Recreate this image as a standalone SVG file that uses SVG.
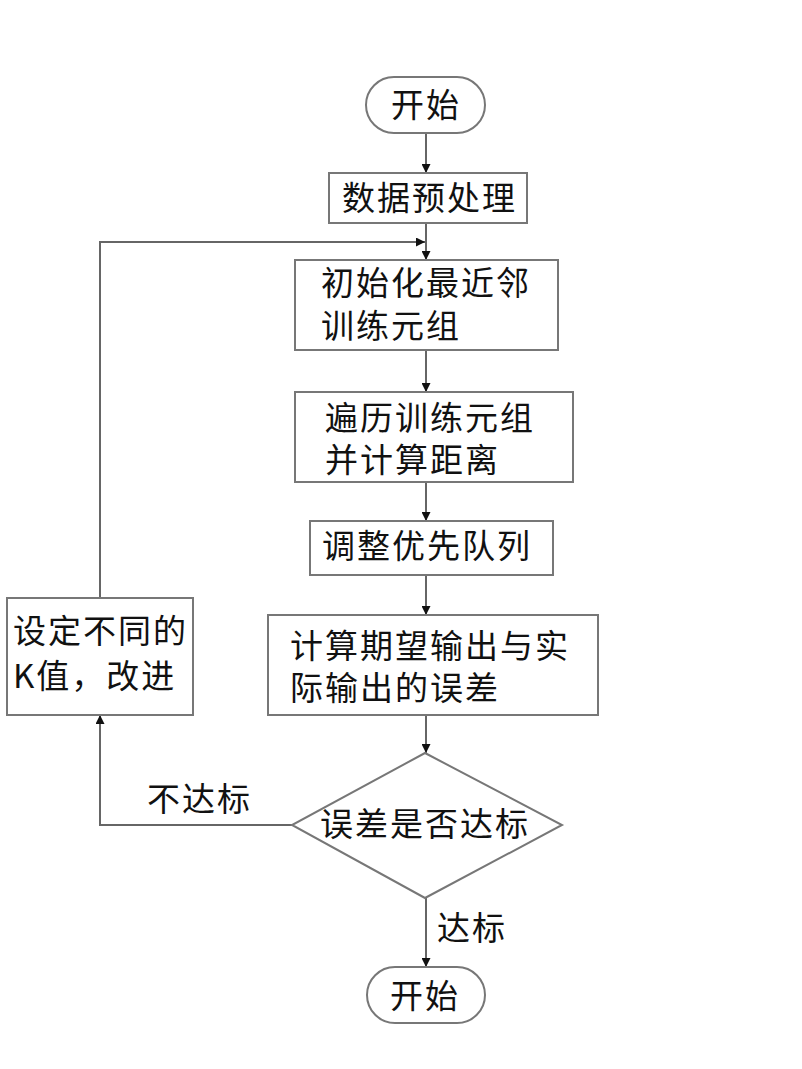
<svg xmlns="http://www.w3.org/2000/svg" width="802" height="1069" viewBox="0 0 802 1069">
<style>
.box{fill:#fff;stroke:#777;stroke-width:2}
.t{font-family:"Noto Sans CJK SC","Noto Sans",sans-serif;font-size:33px;letter-spacing:2px;fill:#111}
.c{fill:none;stroke:#666;stroke-width:2}
</style>
<defs>
<marker id="ah" viewBox="0 0 10 10" refX="10" refY="5" markerWidth="9" markerHeight="9" markerUnits="userSpaceOnUse" orient="auto">
<path d="M0,0 L10,5 L0,10 z" fill="#111"/>
</marker>
</defs>
<rect width="802" height="1069" fill="#fff"/>
<g id="connectors">
<path class="c" d="M426,133 V173" marker-end="url(#ah)"/>
<path class="c" d="M426,223 V260" marker-end="url(#ah)"/>
<path class="c" d="M426,350 V392" marker-end="url(#ah)"/>
<path class="c" d="M426,482 V521" marker-end="url(#ah)"/>
<path class="c" d="M426,575 V615" marker-end="url(#ah)"/>
<path class="c" d="M426,715 V753" marker-end="url(#ah)"/>
<path class="c" d="M426,898 V967" marker-end="url(#ah)"/>
<path class="c" d="M292,825 H100 V715" marker-end="url(#ah)"/>
<path class="c" d="M100,598 V242 H425" marker-end="url(#ah)"/>
<text class="t" x="147" y="811">不达标</text>
<text class="t" x="437" y="940">达标</text>
</g>
<g id="start">
<rect class="box" x="366" y="77" width="119" height="56" rx="28" ry="28"/>
<text class="t" x="391" y="117">开始</text>
</g>
<g id="preprocess">
<rect class="box" x="329" y="173" width="198" height="50"/>
<text class="t" x="342" y="210">数据预处理</text>
</g>
<g id="init">
<rect class="box" x="295" y="260" width="263" height="90"/>
<text class="t" x="321" y="295">初始化最近邻</text>
<text class="t" x="321" y="338">训练元组</text>
</g>
<g id="traverse">
<rect class="box" x="295" y="392" width="278" height="90"/>
<text class="t" x="325" y="430">遍历训练元组</text>
<text class="t" x="325" y="472">并计算距离</text>
</g>
<g id="adjust">
<rect class="box" x="310" y="521" width="243" height="54"/>
<text class="t" x="322" y="558">调整优先队列</text>
</g>
<g id="error">
<rect class="box" x="268" y="615" width="330" height="100"/>
<text class="t" x="290" y="658">计算期望输出与实</text>
<text class="t" x="290" y="700">际输出的误差</text>
</g>
<g id="decision">
<polygon class="box" points="425,753 562,825 425,898 292,825"/>
<text class="t" x="320" y="836">误差是否达标</text>
</g>
<g id="setk">
<rect class="box" x="7" y="598" width="186" height="117"/>
<text class="t" x="13" y="643">设定不同的</text>
<text class="t" x="13" y="688">K值，改进</text>
</g>
<g id="end">
<rect class="box" x="367" y="967" width="118" height="56" rx="28" ry="28"/>
<text class="t" x="390" y="1008">开始</text>
</g>
</svg>
